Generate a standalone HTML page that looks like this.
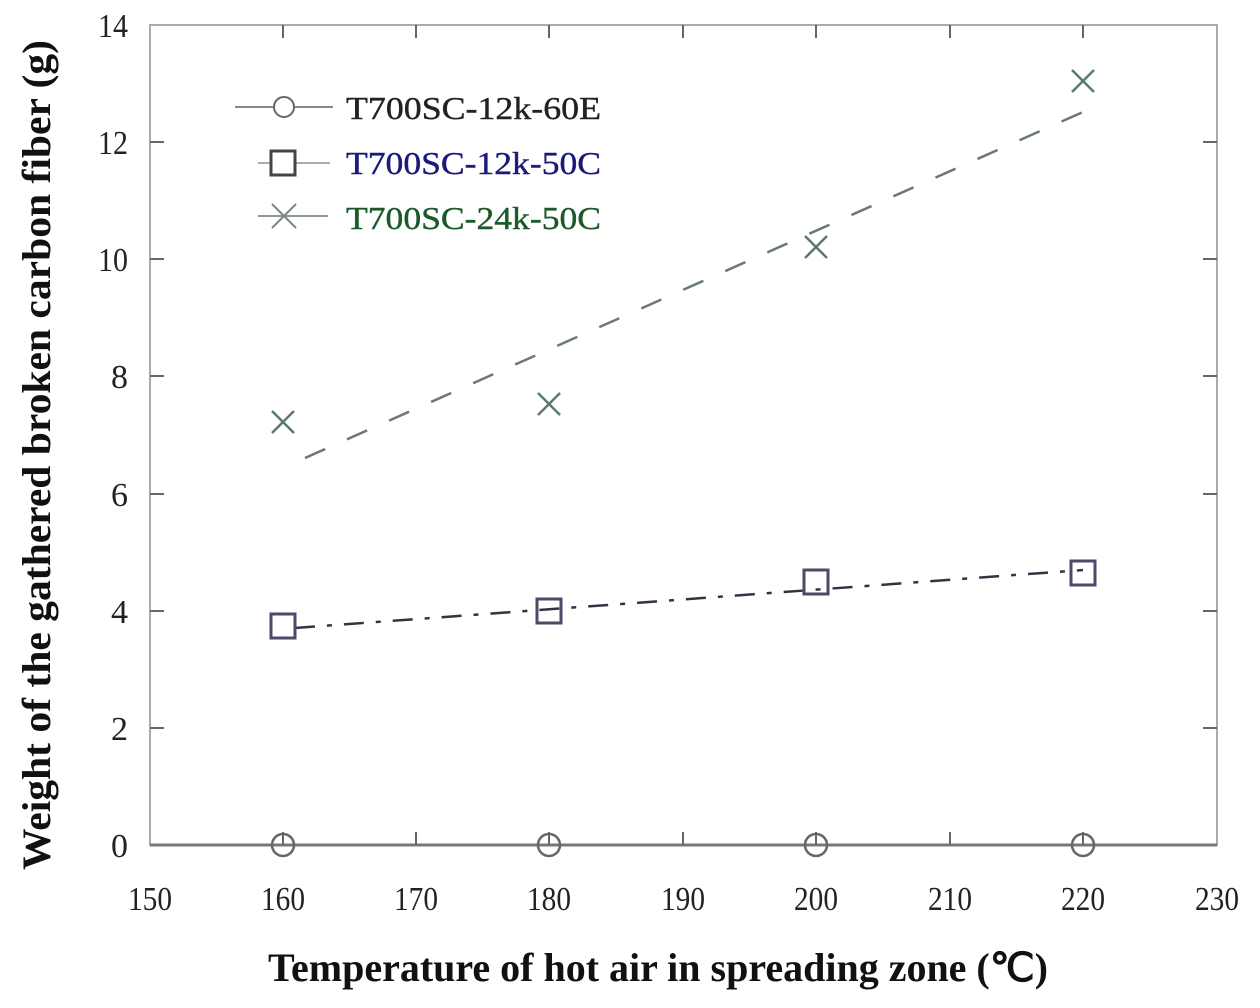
<!DOCTYPE html>
<html><head><meta charset="utf-8"><style>html,body{margin:0;padding:0;background:#fff}svg{display:block}</style></head>
<body>
<svg width="1260" height="1008" viewBox="0 0 1260 1008" xmlns="http://www.w3.org/2000/svg" font-family="Liberation Serif, serif">
<rect width="1260" height="1008" fill="#fff"/>
<rect x="150" y="25" width="1067" height="820" fill="none" stroke="#aaa" stroke-width="2"/>
<line x1="150" y1="845" x2="1217" y2="845" stroke="#777" stroke-width="3"/>
<g stroke="#666" stroke-width="2">
<line x1="283" y1="845" x2="283" y2="832"/><line x1="283" y1="25" x2="283" y2="38"/>
<line x1="416" y1="845" x2="416" y2="832"/><line x1="416" y1="25" x2="416" y2="38"/>
<line x1="549" y1="845" x2="549" y2="832"/><line x1="549" y1="25" x2="549" y2="38"/>
<line x1="683" y1="845" x2="683" y2="832"/><line x1="683" y1="25" x2="683" y2="38"/>
<line x1="816" y1="845" x2="816" y2="832"/><line x1="816" y1="25" x2="816" y2="38"/>
<line x1="950" y1="845" x2="950" y2="832"/><line x1="950" y1="25" x2="950" y2="38"/>
<line x1="1083" y1="845" x2="1083" y2="832"/><line x1="1083" y1="25" x2="1083" y2="38"/>
</g>
<g stroke="#666" stroke-width="2">
<line x1="150" y1="728" x2="164" y2="728"/><line x1="1217" y1="728" x2="1203" y2="728"/>
<line x1="150" y1="611" x2="164" y2="611"/><line x1="1217" y1="611" x2="1203" y2="611"/>
<line x1="150" y1="494" x2="164" y2="494"/><line x1="1217" y1="494" x2="1203" y2="494"/>
<line x1="150" y1="376" x2="164" y2="376"/><line x1="1217" y1="376" x2="1203" y2="376"/>
<line x1="150" y1="259" x2="164" y2="259"/><line x1="1217" y1="259" x2="1203" y2="259"/>
<line x1="150" y1="142" x2="164" y2="142"/><line x1="1217" y1="142" x2="1203" y2="142"/>
</g>
<g font-size="34" fill="#222" text-anchor="end">
<text x="128" y="857">0</text><text x="128" y="740">2</text><text x="128" y="623">4</text>
<text x="128" y="506">6</text><text x="128" y="388">8</text><text x="128" y="271" textLength="30" lengthAdjust="spacingAndGlyphs">10</text>
<text x="128" y="154" textLength="30" lengthAdjust="spacingAndGlyphs">12</text><text x="128" y="37" textLength="30" lengthAdjust="spacingAndGlyphs">14</text>
</g>
<g font-size="34" fill="#222" text-anchor="middle">
<text x="150" y="910" textLength="44" lengthAdjust="spacingAndGlyphs">150</text><text x="283" y="910" textLength="44" lengthAdjust="spacingAndGlyphs">160</text><text x="416" y="910" textLength="44" lengthAdjust="spacingAndGlyphs">170</text>
<text x="549" y="910" textLength="44" lengthAdjust="spacingAndGlyphs">180</text><text x="683" y="910" textLength="44" lengthAdjust="spacingAndGlyphs">190</text><text x="816" y="910" textLength="44" lengthAdjust="spacingAndGlyphs">200</text>
<text x="950" y="910" textLength="44" lengthAdjust="spacingAndGlyphs">210</text><text x="1083" y="910" textLength="44" lengthAdjust="spacingAndGlyphs">220</text><text x="1217" y="910" textLength="44" lengthAdjust="spacingAndGlyphs">230</text>
</g>
<text x="268" y="981" font-size="40" font-weight="bold" fill="#111" textLength="780" lengthAdjust="spacingAndGlyphs">Temperature of hot air in spreading zone (℃)</text>
<text transform="translate(50,870) rotate(-90)" font-size="40" font-weight="bold" fill="#111" textLength="830" lengthAdjust="spacingAndGlyphs">Weight of the gathered broken carbon fiber (g)</text>
<line x1="305" y1="458" x2="1083" y2="112" stroke="#6a7a70" stroke-width="2.5" stroke-dasharray="22,24"/>
<g stroke="#5a7a6a" stroke-width="2.5">
<path d="M272 411 L294 433 M294 411 L272 433"/>
<path d="M538 393 L560 415 M560 393 L538 415"/>
<path d="M805 236 L827 258 M827 236 L805 258"/>
<path d="M1072 70 L1094 92 M1094 70 L1072 92"/>
</g>
<line x1="295" y1="628" x2="1083" y2="570" stroke="#334" stroke-width="2.5" stroke-dasharray="20,12,5,12"/>
<g stroke="#4a4a6a" stroke-width="3" fill="none">
<rect x="271" y="614" width="24" height="24"/>
<rect x="537" y="599" width="24" height="24"/>
<rect x="804" y="570" width="24" height="24"/>
<rect x="1071" y="561" width="24" height="24"/>
</g>
<g stroke="#666" stroke-width="2.5" fill="none">
<circle cx="283" cy="845" r="11"/><circle cx="549" cy="845" r="11"/>
<circle cx="816" cy="845" r="11"/><circle cx="1083" cy="845" r="11"/>
</g>
<g stroke-width="2" fill="none">
<line x1="235" y1="107" x2="333" y2="107" stroke="#888"/>
<circle cx="284" cy="107" r="10" stroke="#666" fill="#fff"/>
<line x1="258" y1="163" x2="330" y2="163" stroke="#aab"/>
<rect x="271" y="151" width="24" height="24" stroke="#444" stroke-width="3" fill="#fff"/>
<line x1="258" y1="216" x2="328" y2="216" stroke="#8a9a90"/>
<path d="M272 204 L296 228 M296 204 L272 228" stroke="#7a8a80"/>
</g>
<g font-size="32" stroke-width="0.4">
<text x="346" y="119" fill="#222" stroke="#222" textLength="255" lengthAdjust="spacingAndGlyphs">T700SC-12k-60E</text>
<text x="346" y="174" fill="#1a1a7a" stroke="#1a1a7a" textLength="255" lengthAdjust="spacingAndGlyphs">T700SC-12k-50C</text>
<text x="346" y="229" fill="#1a5a2a" stroke="#1a5a2a" textLength="255" lengthAdjust="spacingAndGlyphs">T700SC-24k-50C</text>
</g>
</svg>
</body></html>
